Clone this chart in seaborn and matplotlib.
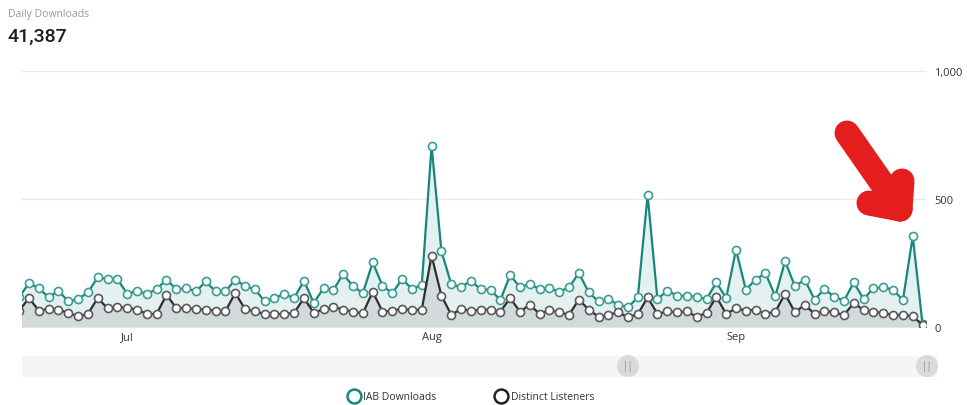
import matplotlib
matplotlib.use("Agg")
import matplotlib.pyplot as plt
import matplotlib.dates as mdates
from matplotlib.lines import Line2D
from matplotlib.patches import Circle, FancyBboxPatch
import seaborn as sns
import pandas as pd
import numpy as np

# ---- data ----
start_date = "2023-06-20"
iab_downloads = [117,
    171, 151, 116, 142, 100, 109, 135, 194, 188, 188, 129, 142, 129, 148, 185,
    148, 151, 139, 178, 139, 139, 185, 159, 148, 100, 113, 129, 113, 181, 94, 152,
    145, 207, 159, 132, 253, 161, 132, 188, 148, 165, 708, 296, 168, 155, 181, 147,
    146, 105, 203, 155, 168, 148, 152, 138, 155, 211, 135, 100, 109, 87, 77, 116, 516,
    109, 142, 122, 122, 118, 109, 174, 113, 302, 146, 185, 211, 120, 257,
    159, 185, 107, 148, 118, 103, 174, 109, 152, 155, 146, 105, 354, 10]
distinct_listeners = [64,
    113, 64, 70, 68, 55, 42, 51, 113, 73, 79, 74, 68, 51, 51, 126,
    74, 74, 70, 68, 64, 61, 133, 70, 61, 51, 51, 51, 55, 113, 55, 70,
    79, 68, 60, 53, 138, 60, 64, 70, 66, 68, 279, 122, 48, 70, 64, 67,
    68, 60, 113, 60, 87, 51, 66, 57, 48, 107, 68, 40, 48, 57, 38, 50,
    116, 51, 61, 57, 61, 40, 55, 118, 51, 73, 64, 68, 51, 60, 129,
    57, 87, 51, 64, 57, 47, 94, 66, 60, 55, 47, 47, 42, 8]
series_labels = ["IAB Downloads", "Distinct Listeners"]
y_ticks = [0, 500, 1000]
y_tick_labels = ["0", "500", "1,000"]
x_tick_dates = ["2023-07-01", "2023-08-01", "2023-09-01"]
x_tick_labels = ["Jul", "Aug", "Sep"]
title_text = "Daily Downloads"
total_text = "41,387"

dates = pd.date_range(start_date, periods=len(iab_downloads), freq="D")
df = pd.DataFrame({"date": dates, "iab": iab_downloads, "listeners": distinct_listeners})

sns.set_style("white")
plt.rcParams["font.family"] = ["Open Sans", "DejaVu Sans"]

W, H = 975, 406
fig = plt.figure(figsize=(W / 100, H / 100), dpi=100)

def px(x0, y0, x1, y1):
    return [x0 / W, 1 - y1 / H, (x1 - x0) / W, (y1 - y0) / H]

ax = fig.add_axes(px(22, 72, 926, 328))

teal = "#16877d"
teal_fill = "#e5f1f0"
dark = "#2e2e2e"
dark_fill = "#d3dadc"

ax.fill_between(df["date"], df["iab"], 0, color=teal_fill, zorder=1, linewidth=0)
ax.fill_between(df["date"], df["listeners"], 0, color=dark_fill, zorder=2, linewidth=0)
sns.lineplot(data=df, x="date", y="iab", ax=ax, color=teal, linewidth=1.6,
             marker="o", markersize=5.8, markerfacecolor="white",
             markeredgecolor="#3a9d94", markeredgewidth=1.2, zorder=3)
sns.lineplot(data=df, x="date", y="listeners", ax=ax, color=dark, linewidth=1.6,
             marker="o", markersize=5.8, markerfacecolor="white",
             markeredgecolor="#5a5a5a", markeredgewidth=1.2, zorder=4)

d0 = mdates.date2num(pd.Timestamp("2023-06-21"))
ax.set_xlim(d0 - 0.713, d0 + 91.35)
ax.set_ylim(0, 1000)
for s in ax.spines.values():
    s.set_visible(False)
ax.set_xlabel("")
ax.set_ylabel("")

ax.set_yticks(y_ticks)
ax.set_yticklabels(y_tick_labels)
ax.yaxis.tick_right()
ax.tick_params(axis="y", length=0, pad=6, labelsize=8, labelcolor="#333333")
ax.yaxis.grid(True, color="#e8e8e8", linewidth=1)
ax.set_axisbelow(True)

ax.set_xticks([mdates.date2num(pd.Timestamp(d)) for d in x_tick_dates])
ax.set_xticklabels(x_tick_labels)
ax.tick_params(axis="x", length=0, pad=3, labelsize=8, labelcolor="#333333")

# header
fig.text(8 / W, 1 - 14 / H, title_text, fontsize=7.5, color="#9a9a9a", va="center", ha="left")
fig.text(8 / W, 1 - 37 / H, total_text, fontsize=14, color="#1e1e1e", va="center",
         ha="left", fontweight="medium", family=["Roboto", "DejaVu Sans"])

# range slider (decorative)
inch = fig.dpi_scale_trans
band = FancyBboxPatch((22 / 100, (H - 378) / 100), (937 - 22) / 100, 21 / 100,
                      boxstyle="square,pad=0", transform=inch, facecolor="#f5f5f5",
                      edgecolor="none")
fig.add_artist(band)
for hx in (628, 927):
    fig.add_artist(Circle((hx / 100, (H - 367) / 100), 0.11, transform=inch,
                          facecolor="#dadada", edgecolor="none"))
    fig.text(hx / W, 1 - 367 / H, "||", fontsize=7, color="#8a8a8a", ha="center", va="center")

# legend
handles = [Line2D([], [], linestyle="none", marker="o", markersize=10, markerfacecolor="white",
                  markeredgecolor=teal, markeredgewidth=1.8),
           Line2D([], [], linestyle="none", marker="o", markersize=10, markerfacecolor="white",
                  markeredgecolor="#222222", markeredgewidth=1.8)]
leg = fig.legend(handles, series_labels, loc="center", bbox_to_anchor=(471 / W, 1 - 398 / H),
                 ncol=2, frameon=False, fontsize=7.5, handletextpad=0.35, columnspacing=5.6,
                 handlelength=1.2)
for t in leg.get_texts():
    t.set_color("#333333")

# red hand-drawn arrow annotation
red = "#e41d1d"
lw = 18
def seg(p, q):
    fig.add_artist(Line2D([p[0] / 100, q[0] / 100], [(H - p[1]) / 100, (H - q[1]) / 100],
                          transform=inch, color=red, linewidth=lw, solid_capstyle="round"))
tip = (900, 210)
seg((847, 134), tip)
seg(tip, (869, 204))
seg(tip, (902, 182))

fig.savefig("out.png", dpi=100)
